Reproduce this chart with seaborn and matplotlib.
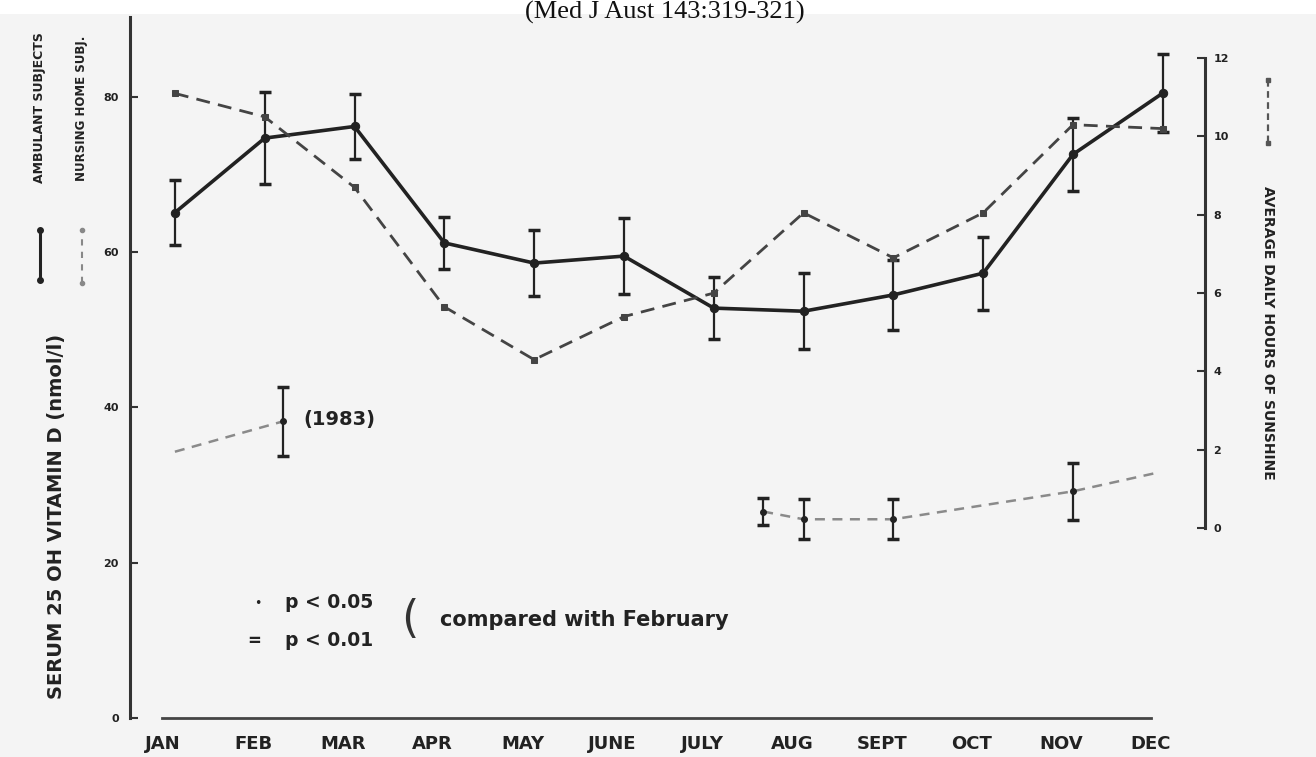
import numpy as np
import pandas as pd
import matplotlib
matplotlib.use("Agg")
import matplotlib.pyplot as plt
import seaborn as sns
from matplotlib.patches import Rectangle

# ---------------- data ----------------
months = ["JAN", "FEB", "MAR", "APR", "MAY", "JUNE", "JULY", "AUG", "SEPT", "OCT", "NOV", "DEC"]
ambulant = [65.1, 74.7, 76.2, 61.2, 58.6, 59.5, 52.8, 52.4, 54.5, 57.3, 72.6, 80.5]
ambulant_err = [4.2, 5.9, 4.2, 3.4, 4.2, 4.9, 4.0, 4.9, 4.5, 4.7, 4.7, 5.0]
sunshine = [11.1, 10.5, 8.7, 5.65, 4.3, 5.4, 6.0, 8.05, 6.9, 8.05, 10.3, 10.2]
nursing_month = [0.0, 1.2, 6.55, 7.0, 8.0, 10.0, 10.9]
nursing = [34.3, 38.2, 26.6, 25.6, 25.6, 29.2, 31.5]
nursing_err = [np.nan, 4.4, 1.7, 2.6, 2.6, 3.7, np.nan]
nursing_segment = ["early", "early", "late", "late", "late", "late", "late"]
left_ticks = [0, 20, 40, 60, 80]
right_ticks = [0, 2, 4, 6, 8, 10, 12]

sns.set_style("white")
plt.rcParams["font.family"] = ["DejaVu Sans"]

BG = "#f4f4f4"
INK = "#222222"

fig = plt.figure(figsize=(13.16, 7.57), dpi=100, facecolor=BG)
fig.patches.append(Rectangle((0, 1 - 14 / 757), 1, 14 / 757, transform=fig.transFigure,
                             facecolor="white", edgecolor="none", zorder=0))
ax = fig.add_axes([130 / 1316, 39 / 757, 1075 / 1316, 701 / 757])
ax.set_facecolor(BG)

x_idx = np.arange(len(months))
df_amb = pd.DataFrame({"m": x_idx, "v": ambulant})
df_nh = pd.DataFrame({"m": nursing_month, "v": nursing, "seg": nursing_segment})

# nursing home subjects (lower dashed line, two separate runs)
sns.lineplot(data=df_nh, x="m", y="v", units="seg", estimator=None, ax=ax,
             color="#8a8a8a", linestyle=(0, (4, 3)), linewidth=1.8, sort=False, zorder=2)
ax.errorbar(nursing_month, nursing, yerr=nursing_err, fmt="none", ecolor=INK,
            elinewidth=1.6, capsize=4, capthick=2.5, zorder=3)
ax.plot(nursing_month[1:-1], nursing[1:-1], "o", ms=4, color=INK, zorder=4)

# ambulant subjects (solid)
ax.errorbar(x_idx, ambulant, yerr=ambulant_err, fmt="none", ecolor=INK,
            elinewidth=1.6, capsize=4, capthick=2.5, zorder=3)
sns.lineplot(data=df_amb, x="m", y="v", ax=ax, color=INK, linewidth=2.6, marker="o",
             markersize=6, markeredgecolor=INK, sort=False, zorder=4)

ax.set_xlim(-0.5, 11.47)
ax.set_ylim(0, 90.3)
ax.set_xlabel("")
ax.set_ylabel("")

# sunshine on the right axis
ax2 = ax.twinx()
df_sun = pd.DataFrame({"m": x_idx, "v": sunshine})
sns.lineplot(data=df_sun, x="m", y="v", ax=ax2, color="#444444", linestyle=(0, (5, 3)),
             linewidth=2.0, marker="s", markersize=4, markeredgecolor="#444444",
             sort=False, zorder=2)
ax2.set_ylim(-4.85, 13.05)
ax2.set_xlim(-0.5, 11.47)
ax2.set_ylabel("")

# ---------------- axes styling ----------------
for s in ["top", "right"]:
    ax.spines[s].set_visible(False)
for s in ["top", "left", "bottom"]:
    ax2.spines[s].set_visible(False)

ax.spines["left"].set_linewidth(2.2)
ax.spines["left"].set_color("#333333")
ax.spines["bottom"].set_linewidth(2.0)
ax.spines["bottom"].set_color("#444444")
ax.spines["bottom"].set_bounds(-0.14, 10.87)
ax2.spines["right"].set_linewidth(2.2)
ax2.spines["right"].set_color("#333333")
ax2.spines["right"].set_bounds(0, 12)

ax.set_xticks(x_idx - 0.13)
ax.set_xticklabels(months, fontsize=13, fontweight="bold")
ax.tick_params(axis="x", direction="in", length=5, width=1.2, pad=12, colors="#444444")
for lbl in ax.get_xticklabels():
    lbl.set_color(INK)

ax.set_yticks(left_ticks)
ax.set_yticklabels([str(t) for t in left_ticks], fontsize=8, fontweight="bold")
ax.tick_params(axis="y", direction="in", length=6, width=1.5, pad=8, colors="#333333")

ax2.set_yticks(right_ticks)
ax2.set_yticklabels([str(t) for t in right_ticks], fontsize=8, fontweight="bold")
ax2.tick_params(axis="y", direction="in", length=6, width=1.5, pad=6, colors="#333333")
for lbl in ax.get_yticklabels() + ax2.get_yticklabels():
    lbl.set_color(INK)

# ---------------- texts ----------------
def fx(px):
    return px / 1316


def fy(py):
    return 1 - py / 757


fig.text(fx(665), fy(1), "(Med J Aust 143:319-321)", ha="center", va="top",
         fontsize=19, family="Liberation Serif", color="#111111")

fig.text(fx(57), fy(516), "SERUM 25 OH VITAMIN D (nmol/l)", rotation=90, ha="center",
         va="center", fontsize=14, fontweight="bold", color=INK)

# rotated legend at top-left
fig.lines.append(plt.Line2D([fx(40), fx(40)], [fy(280), fy(230)], transform=fig.transFigure,
                            color=INK, linewidth=2.2, marker="o", markersize=4))
fig.text(fx(40), fy(108), "AMBULANT SUBJECTS", rotation=90, ha="center", va="center",
         fontsize=9, fontweight="bold", color=INK)
fig.lines.append(plt.Line2D([fx(82), fx(82)], [fy(283), fy(230)], transform=fig.transFigure,
                            color="#888888", linewidth=1.5, linestyle=(0, (3, 3)),
                            marker="o", markersize=3))
fig.text(fx(82), fy(108), "NURSING HOME SUBJ.", rotation=90, ha="center", va="center",
         fontsize=8.5, fontweight="bold", color=INK)

# right legend
fig.lines.append(plt.Line2D([fx(1268), fx(1268)], [fy(80), fy(143)], transform=fig.transFigure,
                            color="#555555", linewidth=1.6, linestyle=(0, (3, 2)),
                            marker="s", markersize=3))
fig.text(fx(1268), fy(333), "AVERAGE DAILY HOURS OF SUNSHINE", rotation=270, ha="center",
         va="center", fontsize=10, fontweight="bold", color=INK)

# annotations
fig.text(fx(303), fy(420), "(1983)", ha="left", va="center", fontsize=14,
         fontweight="bold", color=INK)
fig.text(fx(258), fy(603), "•", ha="center", va="center", fontsize=9, color=INK)
fig.text(fx(254), fy(641), "=", ha="center", va="center", fontsize=12,
         fontweight="bold", color=INK)
fig.text(fx(285), fy(603), "p < 0.05", ha="left", va="center", fontsize=13.5,
         fontweight="bold", color=INK)
fig.text(fx(285), fy(641), "p < 0.01", ha="left", va="center", fontsize=13.5,
         fontweight="bold", color=INK)
fig.text(fx(410), fy(620), "(", ha="center", va="center", fontsize=32, color="#333333")
fig.text(fx(440), fy(620), "compared with February", ha="left", va="center", fontsize=15,
         fontweight="bold", color=INK)

fig.savefig("out.png", dpi=100, facecolor=fig.get_facecolor())
